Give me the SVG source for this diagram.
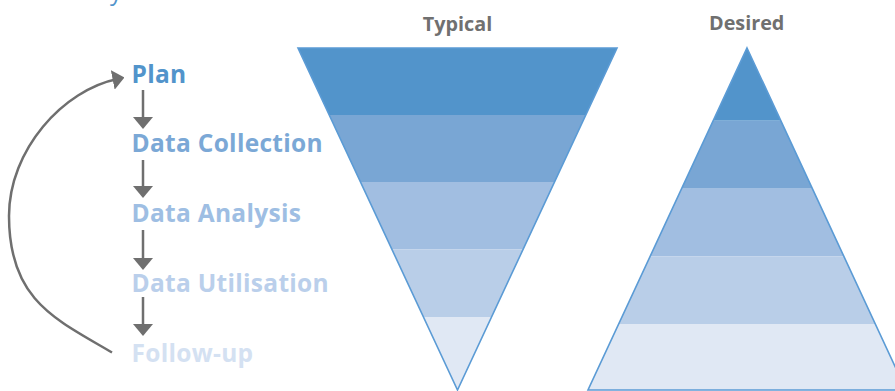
<svg xmlns="http://www.w3.org/2000/svg" width="895" height="391" viewBox="0 0 895 391">
<style>
.step{font-family:"Open Sans","Noto Sans","Liberation Sans",sans-serif;font-weight:700;font-size:24.5px;letter-spacing:0.3px}
.head{font-family:"Open Sans","Noto Sans","Liberation Sans",sans-serif;font-weight:700;font-size:19.8px;fill:#707070;text-anchor:middle}
.title{font-family:"Open Sans","Noto Sans","Liberation Sans",sans-serif;font-weight:400;font-size:24px;fill:#5294CB}
.conn{fill:none;stroke:#6F6F6F;stroke-width:2.5}
.outline{fill:none;stroke:#5B9BD5;stroke-width:1.6;stroke-linejoin:miter}
.b1{fill:#5294CB}.b2{fill:#79A6D4}.b3{fill:#A1BEE1}.b4{fill:#B9CEE8}.b5{fill:#E0E8F4}
</style>
<defs>
<marker id="ah" markerUnits="userSpaceOnUse" viewBox="0 0 12 20" refX="6" refY="10" markerWidth="12" markerHeight="20" orient="auto">
<path d="M0,0 L12,10 L0,20 Z" fill="#6F6F6F"/>
</marker>
<clipPath id="clipTyp"><polygon points="298,48 617,48 457.5,390"/></clipPath>
<clipPath id="clipDes"><polygon points="747,48 906,390 588,390"/></clipPath>
</defs>

<text x="110" y="-0.5" class="title">y</text>

<g id="steps">
<g id="plan"><text x="131.5" y="83" class="step" fill="#5294CB">Plan</text></g>
<g id="data-collection"><text x="131.5" y="152" class="step" fill="#7BA8D6">Data Collection</text></g>
<g id="data-analysis"><text x="131.5" y="222" class="step" fill="#9EBEE3">Data Analysis</text></g>
<g id="data-utilisation"><text x="131.5" y="291.5" class="step" fill="#BACFEB">Data Utilisation</text></g>
<g id="follow-up"><text x="131.5" y="361.5" class="step" fill="#D4E1F2">Follow-up</text></g>
</g>

<g id="connectors">
<path class="conn" d="M143,90 V123" marker-end="url(#ah)"/>
<path class="conn" d="M143,160 V192" marker-end="url(#ah)"/>
<path class="conn" d="M143,230 V264" marker-end="url(#ah)"/>
<path class="conn" d="M143,297 V330" marker-end="url(#ah)"/>
<path class="conn" d="M112,352.5 C55,319 9,300 9,216 C9,150 63,89.6 118.6,78.7" marker-end="url(#ah)"/>
</g>

<g id="typical">
<text x="457.5" y="30.5" class="head">Typical</text>
<g clip-path="url(#clipTyp)">
<rect class="b1" x="290" y="40" width="340" height="75"/>
<rect class="b2" x="290" y="115" width="340" height="67"/>
<rect class="b3" x="290" y="182" width="340" height="67.5"/>
<rect class="b4" x="290" y="249.5" width="340" height="67.5"/>
<rect class="b5" x="290" y="317" width="340" height="80"/>
</g>
<polygon class="outline" points="298,48 617,48 457.5,390"/>
</g>

<g id="desired">
<text x="746.7" y="30" class="head">Desired</text>
<g clip-path="url(#clipDes)">
<rect class="b1" x="580" y="40" width="330" height="80.7"/>
<rect class="b2" x="580" y="120.7" width="330" height="68"/>
<rect class="b3" x="580" y="188.7" width="330" height="67.8"/>
<rect class="b4" x="580" y="256.5" width="330" height="67.5"/>
<rect class="b5" x="580" y="324" width="330" height="70"/>
</g>
<polygon class="outline" points="747,48 906,390 588,390"/>
</g>
</svg>
